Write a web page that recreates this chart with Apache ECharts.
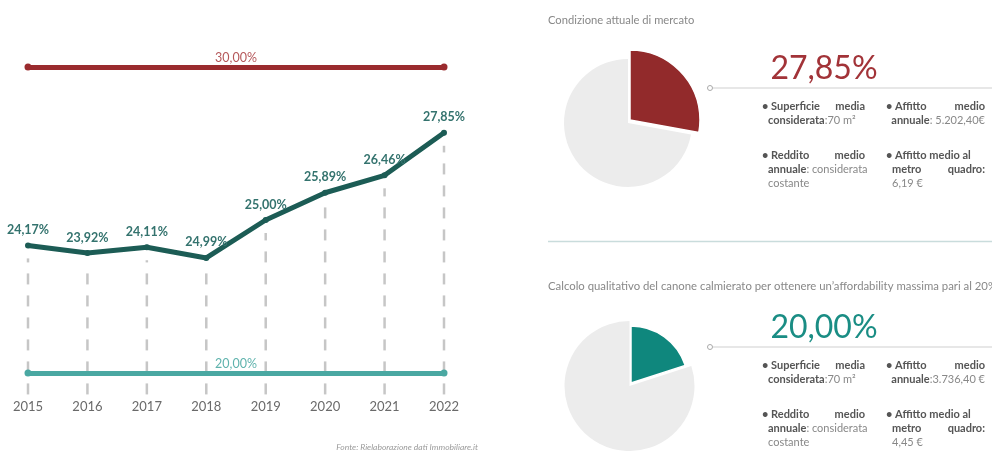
<!DOCTYPE html>
<html>
<head>
<meta charset="utf-8">
<script src="https://cdn.jsdelivr.net/npm/echarts@6/dist/echarts.min.js"></script>
<style>
  html, body { margin: 0; padding: 0; background: #fff; }
  #chart { width: 992px; height: 451px; }
</style>
</head>
<body>
<div id="chart"></div>
<script>
// dati
const years = ['2015', '2016', '2017', '2018', '2019', '2020', '2021', '2022'];
const rates = [24.17, 23.92, 24.11, 23.76, 25.00, 25.89, 26.46, 27.85];
const rateLabels = ['24,17%', '23,92%', '24,11%', '24,99%', '25,00%', '25,89%', '26,46%', '27,85%'];
const refValues = [30, 20];
const refLabels = ['30,00%', '20,00%'];
const pieValues = [27.85, 20.00];
const pieLabels = ['27,85%', '20,00%'];
const sectionTitles = [
  'Condizione attuale di mercato',
  'Calcolo qualitativo del canone calmierato per ottenere un\u2019affordability massima pari al 20%'
];
const rentYear = ['5.202,40\u20ac', '3.736,40 \u20ac'];
const rentSqm = ['6,19 \u20ac', '4,45 \u20ac'];

const RED = '#9a2b2e';
const TEAL = '#148a80';
const DARK = '#1c5c55';
const FONT = 'Lato, "Noto Sans", sans-serif';
const FS = 11;

const chart = echarts.init(document.getElementById('chart'));

function txt(x, y, text, opts) {
  return {
    type: 'text', silent: true,
    style: Object.assign({
      x: x, y: y, text: text, fill: '#888', fontFamily: FONT, fontSize: FS,
      align: 'left', verticalAlign: 'middle'
    }, opts || {})
  };
}
const rich = {
  b: { fontFamily: FONT, fontSize: FS, fontWeight: 'bold', fill: '#555' },
  l: { fontFamily: FONT, fontSize: FS, fill: '#888' }
};

function infoBlock(i, top) {
  const yLine = top;
  const el = [];
  el.push({ type: 'circle', silent: true, shape: { cx: 710, cy: yLine, r: 2.5 },
    style: { fill: '#fff', stroke: '#aaa', lineWidth: 1 } });
  el.push({ type: 'line', silent: true, shape: { x1: 713, y1: yLine, x2: 992, y2: yLine },
    style: { stroke: '#cfcfcf', lineWidth: 1.2 } });
  el.push(txt(824, yLine - 19, pieLabels[i], {
    fontSize: 32, fill: i === 0 ? '#a23338' : '#1a8d84', align: 'center'
  }));
  const r1 = yLine + 18, r2 = yLine + 32, r3 = yLine + 67, r4 = yLine + 81, r5 = yLine + 95;
  const L = 762, LR = 865, R = 886, RR = 985;
  el.push(txt(L, r1, '{b|\u2022 Superficie}', { rich: rich }));
  el.push(txt(LR, r1, '{b|media}', { rich: rich, align: 'right' }));
  el.push(txt(L + 6, r2, '{b|considerata}{l|:70 m\u00b2}', { rich: rich }));
  el.push(txt(R, r1, '{b|\u2022 Affitto}', { rich: rich }));
  el.push(txt(RR, r1, '{b|medio}', { rich: rich, align: 'right' }));
  el.push(txt(RR, r2, '{b|annuale}{l|:' + (i === 0 ? ' ' : '') + rentYear[i] + '}', { rich: rich, align: 'right' }));
  el.push(txt(L, r3, '{b|\u2022 Reddito}', { rich: rich }));
  el.push(txt(LR, r3, '{b|medio}', { rich: rich, align: 'right' }));
  el.push(txt(L + 6, r4, '{b|annuale}{l|: considerata}', { rich: rich }));
  el.push(txt(L + 6, r5, '{l|costante}', { rich: rich }));
  el.push(txt(R, r3, '{b|\u2022 Affitto medio al}', { rich: rich }));
  el.push(txt(R + 6, r4, '{b|metro}', { rich: rich }));
  el.push(txt(RR, r4, '{b|quadro:}', { rich: rich, align: 'right' }));
  el.push(txt(R + 6, r5, '{l|' + rentSqm[i] + '}', { rich: rich }));
  return el;
}

function refLine(i, color, labelColor) {
  return {
    type: 'line', data: [], silent: true, z: 3,
    markLine: {
      silent: true, animation: false,
      symbol: ['circle', 'circle'], symbolSize: 7,
      lineStyle: { color: color, width: 5, type: 'solid', cap: 'round' },
      label: {
        show: true, position: 'insideMiddleTop', distance: 3, formatter: refLabels[i],
        color: labelColor, fontFamily: FONT, fontSize: 12.5
      },
      emphasis: { disabled: true },
      data: [[{ coord: [years[0], refValues[i]] }, { coord: [years[years.length - 1], refValues[i]] }]]
    }
  };
}

function pieSeries(center, radius, value, color, showSlice, z) {
  return {
    type: 'pie', center: center, radius: radius, silent: true, z: z,
    startAngle: 90, clockwise: true, animation: false,
    label: { show: false }, labelLine: { show: false },
    data: [
      { value: value, itemStyle: { color: showSlice ? color : 'transparent', borderColor: showSlice ? '#fff' : 'transparent', borderWidth: showSlice ? 1.5 : 0 } },
      { value: 100 - value, itemStyle: { color: showSlice ? 'transparent' : '#ececec', borderWidth: 0 } }
    ]
  };
}

const option = {
  backgroundColor: '#fff',
  animation: false,
  grid: { left: 28, right: 548, top: 36.4, bottom: 55.05 },
  xAxis: {
    type: 'category', data: years, boundaryGap: false,
    axisLine: { show: false }, axisTick: { show: false },
    axisLabel: { color: '#6a6a6a', fontFamily: FONT, fontSize: 13, margin: 4 }
  },
  yAxis: {
    type: 'value', min: 19.25, max: 31, show: false, splitLine: { show: false }
  },
  series: [
    {
      type: 'custom', silent: true, z: 1,
      data: rates.map((v, i) => [i, v]),
      renderItem: function (params, api) {
        const top = api.coord([api.value(0), api.value(1)]);
        const bot = api.coord([api.value(0), 19.3]);
        return {
          type: 'line',
          shape: { x1: bot[0], y1: bot[1], x2: top[0], y2: top[1] + 13 },
          style: { stroke: '#c6c6c6', lineWidth: 2.5, lineDash: [11, 11] }
        };
      }
    },
    refLine(0, RED, '#b5585a'),
    refLine(1, '#4aa8a2', '#5fb3ad'),
    {
      type: 'line', data: rates, z: 4, silent: true,
      symbol: 'circle', symbolSize: 6, showSymbol: true,
      lineStyle: { color: DARK, width: 5, join: 'round' },
      itemStyle: { color: DARK },
      label: {
        show: true, position: 'top', distance: 6,
        formatter: p => rateLabels[p.dataIndex],
        color: '#34736e', fontFamily: FONT, fontSize: 12.5, fontWeight: 'bold'
      }
    },
    pieSeries([628, 123], 64, pieValues[0], RED, false, 1),
    pieSeries([630, 120], 70, pieValues[0], '#922a2b', true, 2),
    pieSeries([629.5, 386], 65, pieValues[1], TEAL, false, 1),
    pieSeries([631, 383], 57, pieValues[1], '#0f877d', true, 2)
  ],
  graphic: [
    txt(548, 20, sectionTitles[0], { fontSize: 11.2 }),
    { type: 'line', silent: true, shape: { x1: 548, y1: 241.5, x2: 992, y2: 241.5 },
      style: { stroke: '#c9dcdc', lineWidth: 1.5 } },
    txt(548, 286, sectionTitles[1], { fontSize: 11.35 }),
    txt(478, 447, 'Fonte: Rielaborazione dati Immobiliare.it', {
      align: 'right', fontSize: 8.5, fontStyle: 'italic', fill: '#9a9a9a'
    })
  ].concat(infoBlock(0, 88), infoBlock(1, 347))
};

chart.setOption(option);
</script>
</body>
</html>
